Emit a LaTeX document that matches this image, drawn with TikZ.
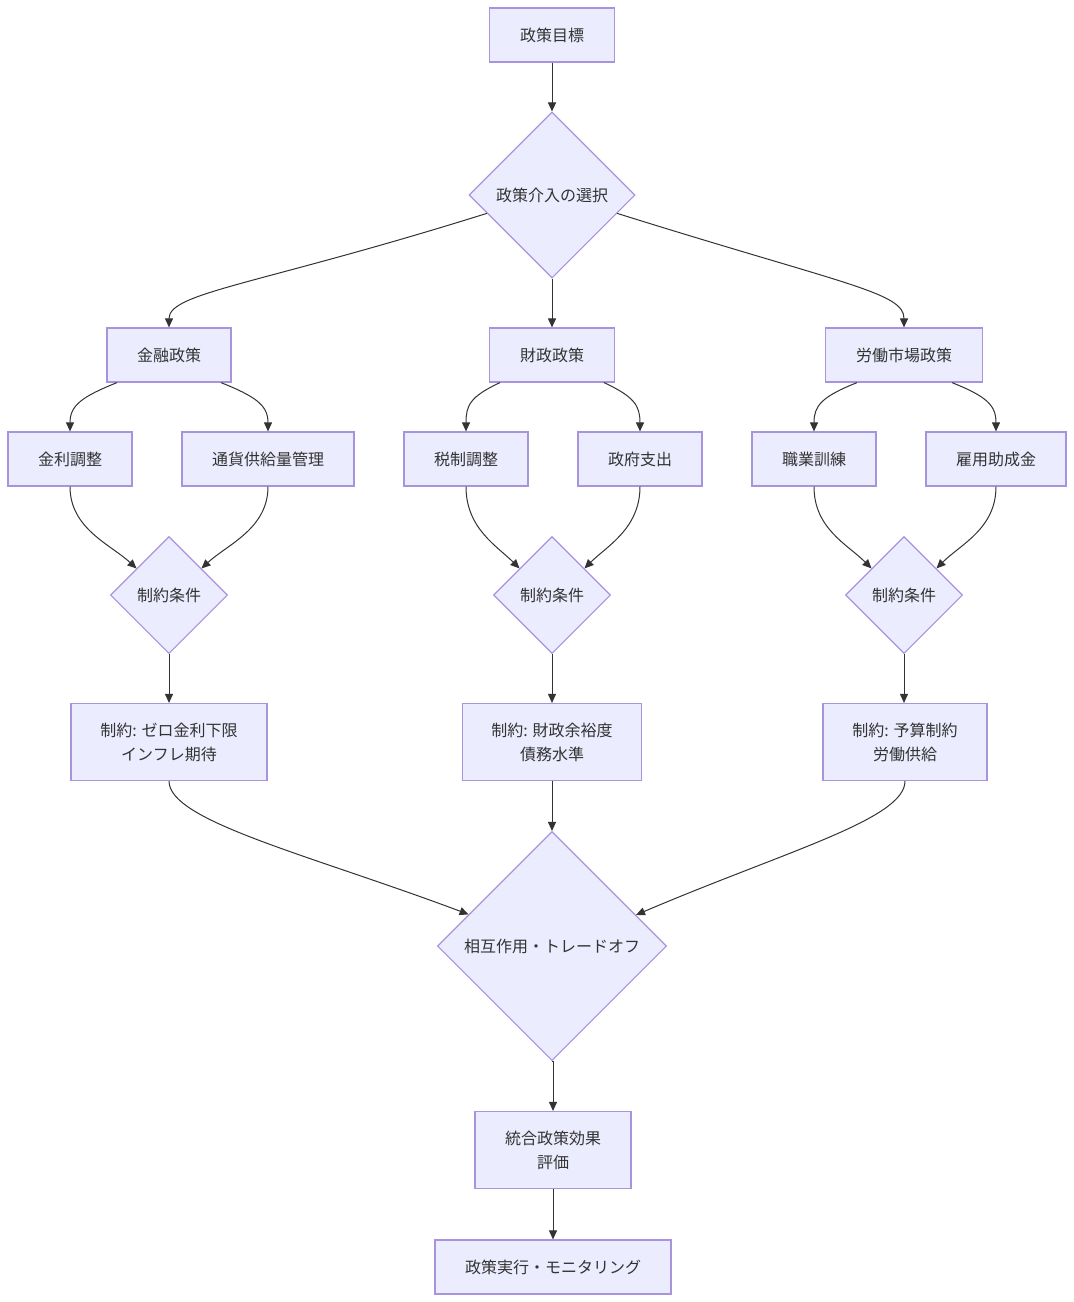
\documentclass[tikz,border=0pt]{standalone}
\usepackage{fontspec}
\setmainfont{Noto Sans CJK JP}
\usetikzlibrary{shapes.geometric,arrows.meta,calc}
\definecolor{nodefill}{HTML}{ECECFF}
\definecolor{nodeline}{HTML}{A893DD}
\definecolor{ink}{HTML}{333333}
\begin{document}
\begin{tikzpicture}[x=1pt,y=-1pt,
  every node/.style={font=\fontsize{16}{24}\selectfont, text=ink},
  box/.style={draw=nodeline, fill=nodefill, line width=1.2pt, rectangle, inner sep=0pt, align=center},
  dia/.style={draw=nodeline, fill=nodefill, line width=1.1pt, diamond, aspect=1, inner sep=0pt, align=center},
  edge/.style={draw=ink, line width=1pt, -{Triangle[length=9pt,width=8pt]}}
]
\useasboundingbox (0,0) rectangle (1074,1302);
\fill[white] (0,0) rectangle (1074,1302);

\node[box, minimum width=125, minimum height=54] (goal) at (552,35) {政策目標};
\node[dia, minimum width=166, minimum height=166] (sel) at (552,195) {政策介入の選択};

\node[box, minimum width=124, minimum height=54] (mon) at (169,355) {金融政策};
\node[box, minimum width=125, minimum height=54] (fis) at (552,355) {財政政策};
\node[box, minimum width=157, minimum height=54] (lab) at (904,355) {労働市場政策};

\node[box, minimum width=124, minimum height=54] (rate) at (70,459) {金利調整};
\node[box, minimum width=172, minimum height=54] (money) at (268,459) {通貨供給量管理};
\node[box, minimum width=124, minimum height=54] (tax) at (466,459) {税制調整};
\node[box, minimum width=124, minimum height=54] (spend) at (640,459) {政府支出};
\node[box, minimum width=124, minimum height=54] (train) at (814,459) {職業訓練};
\node[box, minimum width=140, minimum height=54] (sub) at (996,459) {雇用助成金};

\node[dia, minimum width=117, minimum height=117] (cL) at (169,595) {制約条件};
\node[dia, minimum width=117, minimum height=117] (cM) at (552,595) {制約条件};
\node[dia, minimum width=117, minimum height=117] (cR) at (904,595) {制約条件};

\node[box, minimum width=196, minimum height=77] (kL) at (169,742) {制約: ゼロ金利下限\\インフレ期待};
\node[box, minimum width=179, minimum height=77] (kM) at (552,742) {制約: 財政余裕度\\債務水準};
\node[box, minimum width=164, minimum height=77] (kR) at (905,742) {制約: 予算制約\\労働供給};

\node[dia, minimum width=229, minimum height=229] (inter) at (552,946) {相互作用・トレードオフ};

\node[box, minimum width=156, minimum height=77] (eval) at (553,1150) {統合政策効果\\評価};
\node[box, minimum width=236, minimum height=54] (exec) at (553,1267) {政策実行・モニタリング};

% edges
\draw[edge] (goal.south) -- (sel.north);
\draw[edge] ($(sel.west)!0.22!(sel.south)$) .. controls +(-230,72) and +(0,-35) .. (mon.north);
\draw[edge] (sel.south) -- (fis.north);
\draw[edge] ($(sel.east)!0.22!(sel.south)$) .. controls +(230,72) and +(0,-35) .. (lab.north);

\draw[edge] ($(mon.south)+(-52,0)$) .. controls +(-35,14) and +(0,-26) .. (rate.north);
\draw[edge] ($(mon.south)+(52,0)$) .. controls +(35,14) and +(0,-26) .. (money.north);
\draw[edge] ($(fis.south)+(-52,0)$) .. controls +(-30,14) and +(0,-26) .. (tax.north);
\draw[edge] ($(fis.south)+(52,0)$) .. controls +(30,14) and +(0,-26) .. (spend.north);
\draw[edge] ($(lab.south)+(-47,0)$) .. controls +(-35,14) and +(0,-26) .. (train.north);
\draw[edge] ($(lab.south)+(48,0)$) .. controls +(35,14) and +(0,-26) .. (sub.north);

\draw[edge] (rate.south) .. controls +(0,42) and +(-26,-24) .. ($(cL.west)!0.45!(cL.north)$);
\draw[edge] (money.south) .. controls +(0,42) and +(26,-24) .. ($(cL.east)!0.45!(cL.north)$);
\draw[edge] (tax.south) .. controls +(0,42) and +(-22,-22) .. ($(cM.west)!0.45!(cM.north)$);
\draw[edge] (spend.south) .. controls +(0,42) and +(22,-22) .. ($(cM.east)!0.45!(cM.north)$);
\draw[edge] (train.south) .. controls +(0,42) and +(-24,-24) .. ($(cR.west)!0.45!(cR.north)$);
\draw[edge] (sub.south) .. controls +(0,42) and +(24,-24) .. ($(cR.east)!0.45!(cR.north)$);

\draw[edge] (cL.south) -- (kL.north);
\draw[edge] (cM.south) -- (kM.north);
\draw[edge] (cR.south) -- (cR.south |- kR.north);

\draw[edge] (kL.south) .. controls +(0,40) and +(-160,-60) .. ($(inter.west)!0.275!(inter.north)$);
\draw[edge] (kM.south) -- (inter.north);
\draw[edge] (kR.south) .. controls +(0,38) and +(150,-64) .. ($(inter.east)!0.27!(inter.north)$);

\draw[edge] (inter.south) -- (eval.south |- inter.south) -- (eval.north);
\draw[edge] (eval.south) -- (exec.north);
\end{tikzpicture}
\end{document}
